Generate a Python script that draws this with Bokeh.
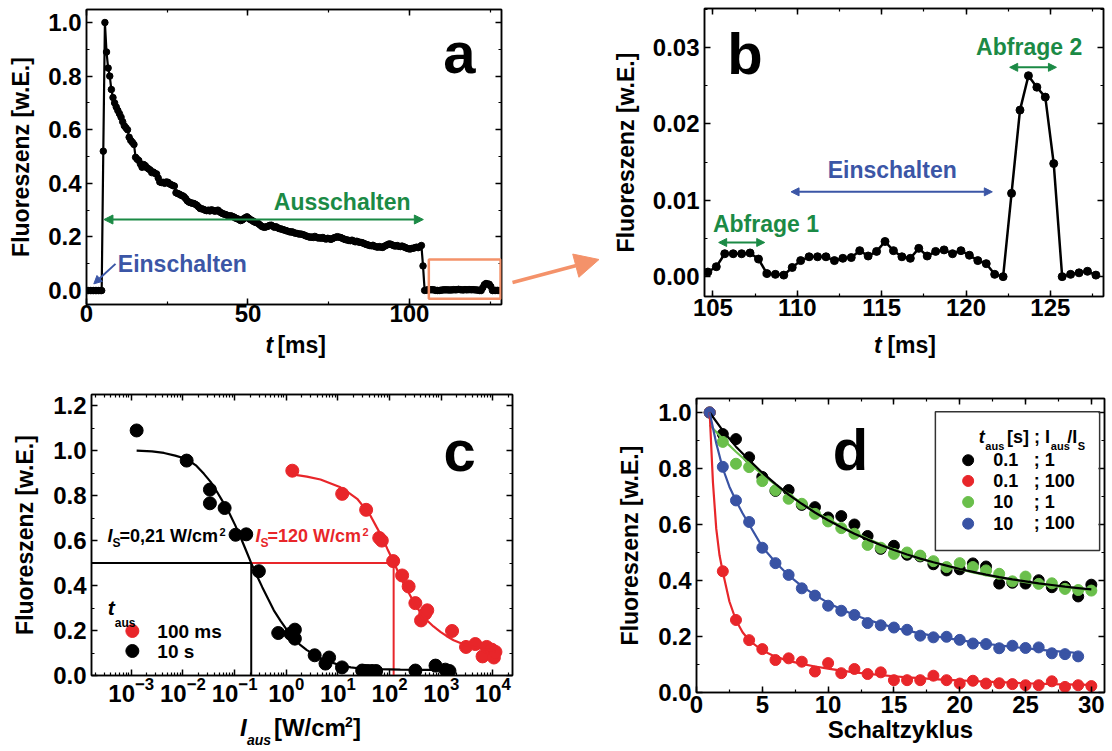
import numpy as np
from bokeh.plotting import figure
from bokeh.models import (Range1d, LinearAxis, LogAxis, Label, Arrow, NormalHead,
                          BoxAnnotation, SingleIntervalTicker, FixedTicker,
                          NumeralTickFormatter, LogTickFormatter, CustomJSTickFormatter,
                          CustomLabelingPolicy)
from bokeh.layouts import row, column
from bokeh.embed import file_html
from bokeh.resources import INLINE

FONT = "Liberation Sans"
RED = "#e8262a"
LGREEN = "#6abf4b"
DBLUE = "#3953a4"
TGREEN = "#1b8a45"
TBLUE = "#3b56a6"
ORANGE = "#f4926a"
TICKFS = "24px"

# ---------------- data ----------------
# panels a/b: fluorescence trace, 0.5 ms sampling, first sample at 0.2 ms
trace_t0 = 0.2
trace_dt = 0.5
trace_switch = [
    0, 0, 0, 0, 0, 0, 0, 0, 0, 0,
    0.52, 1.0, 0.89, 0.83, 0.80, 0.75, 0.72, 0.70, 0.685, 0.672,
    0.66, 0.647, 0.63, 0.615, 0.607, 0.600, 0.572, 0.560, 0.553, 0.545,
    0.497, 0.490, 0.485, 0.472, 0.460, 0.470, 0.466, 0.458, 0.454, 0.450,
    0.440, 0.442, 0.437, 0.435, 0.420, 0.405,
    0.403, 0.404, 0.400, 0.405, 0.404, 0.398, 0.395, 0.392, 0.390, 0.365,
    0.362, 0.360, 0.356, 0.354, 0.350, 0.343, 0.335, 0.330, 0.328, 0.326,
    0.325, 0.322, 0.318, 0.312, 0.306, 0.305, 0.303, 0.300, 0.298, 0.300,
    0.297, 0.301, 0.299, 0.296, 0.298, 0.300, 0.294, 0.290, 0.287, 0.285,
    0.283, 0.280, 0.278, 0.279, 0.276, 0.274, 0.270, 0.268, 0.265, 0.261,
    0.263, 0.268, 0.272, 0.275, 0.270, 0.265, 0.262, 0.258, 0.255, 0.253,
    0.250, 0.245, 0.240, 0.237, 0.236, 0.238, 0.240, 0.243, 0.244, 0.240,
    0.236, 0.238, 0.234, 0.231, 0.230, 0.228, 0.226, 0.224, 0.222, 0.220,
    0.218, 0.219, 0.216, 0.214, 0.213, 0.211, 0.211, 0.210, 0.208, 0.205,
    0.203, 0.201, 0.199, 0.200, 0.198, 0.202, 0.199, 0.196, 0.197, 0.195,
    0.198, 0.194, 0.192, 0.195, 0.193, 0.191, 0.194, 0.197, 0.199, 0.201,
    0.199, 0.198, 0.195, 0.192, 0.190, 0.189, 0.187, 0.186, 0.188, 0.185,
    0.182, 0.184, 0.181, 0.180, 0.179, 0.177, 0.174, 0.172, 0.170, 0.168,
    0.167, 0.169, 0.165, 0.163, 0.162, 0.164, 0.162, 0.161, 0.165, 0.168,
    0.171, 0.174, 0.173, 0.170, 0.167, 0.166, 0.168, 0.165, 0.164, 0.166,
    0.163, 0.161, 0.158, 0.156, 0.155, 0.157, 0.158, 0.160, 0.162, 0.160,
    0.163, 0.168, 0.092,
]
trace_probe = [
    0.0006, 0.0013, 0.0030, 0.0030, 0.0030, 0.0031, 0.0023, 0.0004, 0.0003, 0.0002,
    0.0012, 0.0021, 0.0026, 0.0026, 0.0026, 0.0021, 0.0024, 0.0025, 0.0034, 0.0027,
    0.0033, 0.0046, 0.0034, 0.0026, 0.0024, 0.0037, 0.0027, 0.0033, 0.0035, 0.0030,
    0.0034, 0.0028, 0.0021, 0.0017, 0.0003, 0.0000, 0.0109, 0.0218, 0.0263, 0.0248,
    0.0235, 0.0148, 0.0000, 0.0003, 0.0005, 0.0007, 0.0002,
]
trace_signal = trace_switch + trace_probe
trace_time = [round(trace_t0 + trace_dt * i, 2) for i in range(len(trace_signal))]

# panel c: fluorescence vs switch-off intensity
c_I_10s = [1.27e-3, 0.0118, 0.0333, 0.0333, 0.0641, 0.1045, 0.168, 0.295, 0.70, 1.21,
           1.47, 1.47, 3.55, 5.75, 6.76, 12.0, 29.5, 33.1, 38.0, 45.7, 55.0, 316, 776, 1202, 1445]
c_F_10s = [1.09, 0.956, 0.827, 0.766, 0.745, 0.626, 0.628, 0.464, 0.189, 0.186,
           0.204, 0.164, 0.090, 0.053, 0.080, 0.036, 0.022, 0.020, 0.020, 0.020, 0.020, 0.022, 0.044, 0.026, 0.020]
c_I_100ms = [1.31, 12.1, 35.2, 63.1, 70.8, 117.5, 175, 234, 316, 407, 490, 537,
             1622, 3020, 4571, 6310, 7586, 9550, 10470, 11220]
c_F_100ms = [0.911, 0.808, 0.737, 0.612, 0.600, 0.509, 0.445, 0.396, 0.322, 0.245, 0.275, 0.290,
             0.198, 0.127, 0.140, 0.085, 0.127, 0.115, 0.080, 0.105]
c_fit_I_10s = [1.27e-3, 2.51e-3, 4.3e-3, 7.08e-3, 0.0118, 0.0178, 0.0255, 0.0347, 0.0462, 0.0603,
               0.0776, 0.102, 0.1306, 0.166, 0.21, 0.269, 0.3436, 0.447, 0.575, 0.776, 1.045, 1.41,
               1.89, 2.51, 3.42, 4.6, 6.67, 11.2, 17.8, 27.4, 63.1, 162, 501, 1514]
c_fit_F_10s = [1.00, 0.997, 0.99, 0.978, 0.963, 0.935, 0.897, 0.86, 0.815, 0.77,
               0.726, 0.67, 0.615, 0.557, 0.50, 0.445, 0.393, 0.34, 0.29, 0.243, 0.201, 0.165,
               0.135, 0.113, 0.095, 0.078, 0.062, 0.045, 0.036, 0.031, 0.028, 0.026, 0.025, 0.025]
c_fit_I_100ms = [1.31, 2.51, 4.6, 11.2, 15.8, 23.6, 31.6, 42.7, 56.2, 71.9, 91.2, 117.5, 148, 188,
                 245, 316, 407, 533, 708, 966, 1259, 1738, 2344, 3162, 4266, 5754, 8913, 11220]
c_fit_F_100ms = [0.895, 0.885, 0.872, 0.837, 0.815, 0.786, 0.75, 0.711, 0.66, 0.615, 0.562, 0.509, 0.458, 0.408,
                 0.36, 0.312, 0.277, 0.245, 0.218, 0.194, 0.176, 0.157, 0.145, 0.134, 0.126, 0.12, 0.112, 0.108]
c_Is = [0.21, 120]

# panel d: fatigue over switching cycles
d_cycle = list(range(1, 31))
d_black = [1.0, 0.923, 0.905, 0.84, 0.77, 0.72, 0.723, 0.67, 0.662, 0.625, 0.63, 0.60, 0.559, 0.513, 0.524,
           0.492, 0.486, 0.458, 0.436, 0.44, 0.461, 0.45, 0.389, 0.392, 0.389, 0.401, 0.376, 0.378, 0.343, 0.385]
d_red = [1.0, 0.433, 0.259, 0.187, 0.155, 0.116, 0.122, 0.11, 0.075, 0.105, 0.069, 0.084, 0.066, 0.072, 0.044,
         0.044, 0.044, 0.06, 0.044, 0.032, 0.042, 0.032, 0.033, 0.03, 0.026, 0.026, 0.04, 0.02, 0.026, 0.023]
d_green = [1.0, 0.895, 0.817, 0.805, 0.755, 0.722, 0.692, 0.674, 0.638, 0.611, 0.587, 0.567, 0.527, 0.517, 0.495,
           0.500, 0.489, 0.469, 0.448, 0.462, 0.448, 0.436, 0.424, 0.397, 0.414, 0.388, 0.39, 0.37, 0.366, 0.364]
d_blue_cycle = list(range(1, 30))
d_blue = [1.0, 0.806, 0.686, 0.609, 0.517, 0.462, 0.42, 0.372, 0.346, 0.31, 0.292, 0.277, 0.248, 0.240, 0.232,
          0.224, 0.203, 0.197, 0.199, 0.188, 0.175, 0.173, 0.158, 0.167, 0.159, 0.161, 0.14, 0.137, 0.129]
d_fit_black = [1.0, 0.935, 0.878, 0.83, 0.785, 0.745, 0.707, 0.674, 0.643, 0.615, 0.59, 0.567, 0.546, 0.527, 0.509,
               0.493, 0.478, 0.465, 0.453, 0.441, 0.431, 0.421, 0.412, 0.404, 0.397, 0.39, 0.384, 0.378, 0.373, 0.368]
d_fit_green = [0.955, 0.905, 0.86, 0.818, 0.779, 0.742, 0.708, 0.676, 0.647, 0.619, 0.594, 0.571, 0.549, 0.529, 0.511,
               0.494, 0.479, 0.465, 0.452, 0.44, 0.429, 0.419, 0.41, 0.402, 0.394, 0.387, 0.381, 0.375, 0.37, 0.365]
d_fit_red_x = [1, 1.25, 1.5, 1.75, 2, 2.5, 3, 3.5, 4, 5, 6, 7, 8, 9, 10, 11, 12, 13, 14, 15, 16, 17, 18, 19, 20,
               21, 22, 23, 24, 25, 26, 27, 28, 29, 30]
d_fit_red = [1.0, 0.75, 0.585, 0.49, 0.43, 0.325, 0.258, 0.215, 0.186, 0.15, 0.128, 0.113, 0.102, 0.093, 0.085,
             0.078, 0.072, 0.067, 0.062, 0.058, 0.054, 0.051, 0.048, 0.045, 0.043, 0.041, 0.039, 0.037, 0.035,
             0.033, 0.032, 0.030, 0.029, 0.028, 0.027]
d_fit_blue_x = [1, 1.5, 2, 2.5, 3, 3.5, 4, 5, 6, 7, 8, 9, 10, 11, 12, 13, 14, 15, 16, 17, 18, 19, 20, 21, 22, 23,
                24, 25, 26, 27, 28, 29]
d_fit_blue = [1.0, 0.89, 0.80, 0.735, 0.685, 0.64, 0.60, 0.52, 0.465, 0.418, 0.38, 0.348, 0.32, 0.297, 0.277,
              0.26, 0.245, 0.232, 0.221, 0.211, 0.202, 0.194, 0.187, 0.18, 0.174, 0.168, 0.163, 0.158, 0.153,
              0.149, 0.145, 0.141]
d_legend_tau = ["0.1", "0.1", "10", "10"]
d_legend_ratio = ["; 1", "; 100", "; 1", "; 100"]


# ---------------- helpers ----------------
def make_fig(w, h, xr, yr, bl, br, bt, bb, xlog=False):
    p = figure(width=w, height=h, x_range=xr, y_range=yr, output_backend="svg",
               toolbar_location=None, x_axis_type="log" if xlog else "linear",
               min_border_left=bl, min_border_right=br, min_border_top=bt, min_border_bottom=bb)
    p.grid.visible = False
    p.outline_line_color = "black"
    p.outline_line_width = 1.5
    p.background_fill_color = "white"
    p.border_fill_color = "white"
    return p


def strip(w, h, xr, xlog=False):
    # title strip under a panel; its frame is aligned with the panel frame by the column
    s = figure(width=w, height=h, x_range=xr, y_range=Range1d(0, h),
               x_axis_type="log" if xlog else "linear",
               output_backend="svg", toolbar_location=None, min_border=0,
               x_axis_location=None, y_axis_location=None)
    s.outline_line_color = None
    s.grid.visible = False
    s.border_fill_color = "white"
    s.background_fill_color = "white"
    return s


def style_axis(ax, show=True, standoff=5):
    ax.axis_line_width = 1.5
    ax.axis_line_color = "black"
    ax.major_tick_in = 6
    ax.major_tick_out = 0
    ax.minor_tick_in = 3
    ax.minor_tick_out = 0
    ax.major_tick_line_width = 1.5
    ax.minor_tick_line_width = 1.2
    ax.major_tick_line_color = "black"
    ax.minor_tick_line_color = "black"
    ax.major_label_text_font = FONT
    ax.major_label_text_font_style = "bold"
    ax.major_label_text_color = "black"
    ax.axis_label_text_font = FONT
    ax.axis_label_text_font_style = "bold"
    ax.axis_label_text_font_size = "23px"
    ax.axis_label_text_color = "black"
    if show:
        ax.major_label_text_font_size = TICKFS
        ax.major_label_standoff = standoff
    else:
        ax.major_label_text_font_size = "1px"
        ax.major_label_standoff = 0
        ax.formatter = CustomJSTickFormatter(code="return ''")
        ax.major_label_policy = CustomLabelingPolicy(code="return new Set()")


def setup_axes(p, xticker, yticker, yfmt=None, xlog=False, xstand=3, ystand=5,
               ylabel="Fluoreszenz [w.E.]", ylab_standoff=12, xlabel=None, xlab_standoff=0):
    bx = p.below[0]
    ly = p.left[0]
    bx.ticker = xticker
    ly.ticker = yticker
    if yfmt:
        ly.formatter = NumeralTickFormatter(format=yfmt)
    if xlog:
        bx.formatter = LogTickFormatter()
    style_axis(bx, standoff=xstand)
    style_axis(ly, standoff=ystand)
    ly.axis_label = ylabel
    ly.axis_label_standoff = ylab_standoff
    if xlabel:
        bx.axis_label = xlabel
        bx.axis_label_standoff = xlab_standoff
    top = LogAxis(ticker=xticker) if xlog else LinearAxis(ticker=xticker)
    right = LinearAxis(ticker=yticker)
    style_axis(top, show=False)
    style_axis(right, show=False)
    p.add_layout(top, "above")
    p.add_layout(right, "right")


def lab(p, x, y, text, size, upp, color="black", style="bold", dx=0):
    # y is the wanted baseline; the renderer centres the text box on y, so lift it
    p.add_layout(Label(x=x, y=y + 0.35 * size * upp, text=text, x_offset=dx, text_font=FONT,
                       text_font_size=f"{size}px", text_font_style=style, text_color=color,
                       text_align="left", text_baseline="alphabetic"))


def darrow(p, x0, x1, y, color, size=8, width=2):
    p.add_layout(Arrow(x_start=x0, y_start=y, x_end=x1, y_end=y, line_color=color, line_width=width,
                       start=NormalHead(size=size, fill_color=color, line_color=color),
                       end=NormalHead(size=size, fill_color=color, line_color=color)))


# ---------------- panel a ----------------
UA = 1.1005 / 295
pa = make_fig(505, 332, Range1d(0, 128.5), Range1d(-0.052, 1.0485), 86, 4, 9, 28)
setup_axes(pa, SingleIntervalTicker(interval=50, num_minor_ticks=2),
           SingleIntervalTicker(interval=0.2, num_minor_ticks=2), yfmt="0.0", ylab_standoff=11, xstand=0)
pa.line(trace_time, trace_signal, line_color="black", line_width=2.2)
pa.scatter(trace_time, trace_signal, size=6.5, color="black")
darrow(pa, 5.4, 104.3, 0.265, TGREEN, size=9)
lab(pa, 58.0, 0.2985, "Ausschalten", 23, UA, TGREEN)
lab(pa, 9.7, 0.068, "Einschalten", 23, UA, TBLUE)
pa.add_layout(Arrow(x_start=8.98, y_start=0.0996, x_end=2.26, y_end=0.025, line_color=TBLUE, line_width=2,
                    end=NormalHead(size=8, fill_color=TBLUE, line_color=TBLUE)))
pa.add_layout(BoxAnnotation(left=106.0, right=128.2, bottom=-0.031, top=0.1157, fill_alpha=0,
                            line_color=ORANGE, line_alpha=1.0, line_width=2.5))
lab(pa, 110.5, 0.813, "a", 58, UA)
ta = strip(505, 38, pa.x_range)
lab(ta, 55.4, 17, "t", 23, 1, style="bold italic")
lab(ta, 55.4, 17, "[ms]", 23, 1, dx=12)

# ---------------- spacer with orange arrow ----------------
ps = figure(width=99, height=370, x_range=Range1d(505, 604), y_range=Range1d(370, 0),
            output_backend="svg", toolbar_location=None, min_border=0,
            x_axis_location=None, y_axis_location=None)
ps.outline_line_color = None
ps.grid.visible = False
ps.border_fill_color = "white"
ps.background_fill_color = "white"
ps.add_layout(Arrow(x_start=512, y_start=282, x_end=598.5, y_end=259, line_color=ORANGE, line_width=3.5,
                    end=NormalHead(size=24, fill_color=ORANGE, line_color=ORANGE)))

# ---------------- panel b ----------------
UB = 0.0377 / 288
pb = make_fig(508, 332, Range1d(104.5, 128.15), Range1d(-0.0026, 0.0351), 100, 9, 8, 36)
setup_axes(pb, SingleIntervalTicker(interval=5, num_minor_ticks=2),
           SingleIntervalTicker(interval=0.01, num_minor_ticks=2), yfmt="0.00", ylab_standoff=11, xstand=2)
b_time = [t for t in trace_time if t >= 104.5]
b_sig = [s for t, s in zip(trace_time, trace_signal) if t >= 104.5]
pb.line(b_time, b_sig, line_color="black", line_width=2.5)
pb.scatter(b_time, b_sig, size=8, color="black")
lab(pb, 120.6, 0.029, "Abfrage 2", 23, UB, TGREEN)
darrow(pb, 122.59, 125.36, 0.0274, TGREEN, size=8)
lab(pb, 111.8, 0.01295, "Einschalten", 23, UB, TBLUE)
darrow(pb, 109.63, 121.56, 0.0111, TBLUE, size=8)
lab(pb, 105.0, 0.0059, "Abfrage 1", 23, UB, TGREEN)
darrow(pb, 105.34, 108.07, 0.00447, TGREEN, size=8)
lab(pb, 105.85, 0.0266, "b", 58, UB)
tb = strip(508, 38, pb.x_range)
lab(tb, 114.54, 17, "t", 23, 1, style="bold italic")
lab(tb, 114.54, 17, "[ms]", 23, 1, dx=13.5)

# ---------------- panel c ----------------
UC = 1.25 / 281
c_xmin, c_xmax = 10 ** -3.77, 10 ** 4.38
pc = make_fig(560, 342, Range1d(c_xmin, c_xmax), Range1d(0, 1.25), 91, 48, 24, 37, xlog=True)
dec = [1e-3, 1e-2, 1e-1, 1e0, 1e1, 1e2, 1e3, 1e4]
minor = [m * 10.0 ** e for e in range(-4, 5) for m in range(2, 10)]
setup_axes(pc, FixedTicker(ticks=dec, minor_ticks=minor),
           SingleIntervalTicker(interval=0.2, num_minor_ticks=2), yfmt="0.0", xlog=True,
           ylab_standoff=12, xstand=1)
# half-saturation guide lines
pc.line([c_xmin, c_Is[0]], [0.5, 0.5], line_color="black", line_width=2)
pc.line([c_Is[0], c_Is[0]], [0, 0.5], line_color="black", line_width=2)
pc.line([c_Is[0], c_Is[1]], [0.5, 0.5], line_color=RED, line_width=2)
pc.line([c_Is[1], c_Is[1]], [0, 0.5], line_color=RED, line_width=2)
pc.scatter(c_I_10s, c_F_10s, size=13, color="black")
pc.scatter(c_I_100ms, c_F_100ms, size=13, color=RED)
pc.line(c_fit_I_10s, c_fit_F_10s, line_color="black", line_width=2.2)
pc.line(c_fit_I_100ms, c_fit_F_100ms, line_color=RED, line_width=2.2)
# Is annotations
lab(pc, 3.45e-4, 0.593, "I", 18, UC, style="bold italic")
lab(pc, 3.45e-4, 0.572, "S", 12, UC, dx=5)
lab(pc, 3.45e-4, 0.593, "=0,21 W/cm", 18, UC, dx=12)
lab(pc, 3.45e-4, 0.622, "2", 11, UC, dx=112)
lab(pc, 0.2547, 0.593, "I", 18, UC, RED, style="bold italic")
lab(pc, 0.2547, 0.572, "S", 12, UC, RED, dx=5)
lab(pc, 0.2547, 0.593, "=120 W/cm", 18, UC, RED, dx=12)
lab(pc, 0.2547, 0.622, "2", 11, UC, RED, dx=107)
# legend
lab(pc, 3.5e-4, 0.268, "t", 21, UC, style="bold italic")
lab(pc, 3.5e-4, 0.215, "aus", 12, UC, dx=7)
pc.scatter([1.05e-3], [0.198], size=13, color=RED)
pc.scatter([1.05e-3], [0.109], size=13, color="black")
lab(pc, 3.2e-3, 0.166, "100 ms", 19, UC)
lab(pc, 3.2e-3, 0.077, "10 s", 19, UC)
lab(pc, 1104, 0.911, "c", 58, UC)
tc = strip(560, 39, pc.x_range, xlog=True)
lab(tc, 0.1267, 16, "I", 24, 1, style="bold italic")
lab(tc, 0.1267, 7, "aus", 14, 1, style="bold italic", dx=7)
lab(tc, 0.1267, 16, "[W/cm", 24, 1, dx=34)
lab(tc, 0.1267, 25, "2", 14, 1, dx=105)
lab(tc, 0.1267, 16, "]", 24, 1, dx=113)

# ---------------- panel d ----------------
UD = 1.05 / 294
pd = make_fig(552, 381, Range1d(0, 31.0), Range1d(0, 1.05), 136, 8, 28, 59)
setup_axes(pd, SingleIntervalTicker(interval=5, num_minor_ticks=2),
           SingleIntervalTicker(interval=0.2, num_minor_ticks=2), yfmt="0.0",
           ylab_standoff=12, xstand=3, xlabel="Schaltzyklus", xlab_standoff=0)
pd.below[0].axis_label_text_font_size = "24px"
pd.scatter(d_cycle, d_black, size=11, color="black")
pd.scatter(d_cycle, d_green, size=11, color=LGREEN)
pd.scatter(d_cycle, d_red, size=11, color=RED)
pd.scatter(d_blue_cycle, d_blue, size=11, color=DBLUE)
pd.line(d_cycle, d_fit_green, line_color=LGREEN, line_width=2.2)
pd.line(d_cycle, d_fit_black, line_color="black", line_width=2.2)
pd.line(d_fit_red_x, d_fit_red, line_color=RED, line_width=2.2)
pd.line(d_fit_blue_x, d_fit_blue, line_color=DBLUE, line_width=2.2)
lab(pd, 10.36, 0.794, "d", 58, UD)
# legend box
pd.add_layout(BoxAnnotation(left=18.15, right=30.63, bottom=0.507, top=1.0025, fill_alpha=0,
                            line_color="#333333", line_alpha=1.0, line_width=1.5))
lab(pd, 21.45, 0.889, "t", 18, UD, style="bold italic")
lab(pd, 21.45, 0.8675, "aus", 11, UD, dx=6.5)
lab(pd, 21.45, 0.889, "[s] ; I", 18, UD, dx=28.3)
lab(pd, 21.45, 0.8675, "aus", 11, UD, dx=72)
lab(pd, 21.45, 0.889, "/I", 18, UD, dx=88.5)
lab(pd, 21.45, 0.8675, "S", 11, UD, dx=99)
leg_y = [0.8296, 0.7556, 0.6804, 0.603]
leg_col = ["black", RED, LGREEN, DBLUE]
for yy, cc, t1, t2 in zip(leg_y, leg_col, d_legend_tau, d_legend_ratio):
    pd.scatter([20.64], [yy], size=11, color=cc)
    lab(pd, 22.54, yy - 0.0215, t1, 18, UD)
    lab(pd, 25.62, yy - 0.0215, t2, 18, UD)

layout = column(row(column(pa, ta), ps, column(pb, tb)), row(column(pc, tc), pd))
open("out.html", "w").write(file_html(layout, INLINE))
